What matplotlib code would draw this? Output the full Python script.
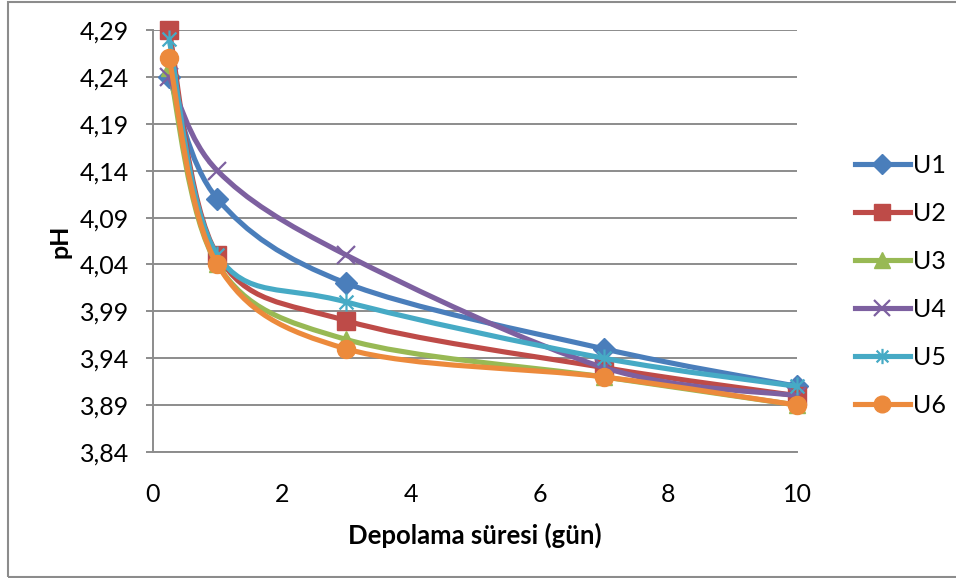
import numpy as np
import matplotlib
matplotlib.use("Agg")
import matplotlib.pyplot as plt
from matplotlib.path import Path
from matplotlib.patches import PathPatch, Rectangle
from matplotlib.lines import Line2D

plt.rcParams['font.family'] = ['Lato', 'DejaVu Sans']

# storage time (days) and pH of each sample
days = [0.25, 1, 3, 7, 10]
u1 = [4.24, 4.11, 4.02, 3.95, 3.91]
u2 = [4.29, 4.05, 3.98, 3.93, 3.90]
u3 = [4.25, 4.04, 3.96, 3.92, 3.89]
u4 = [4.24, 4.14, 4.05, 3.93, 3.90]
u5 = [4.28, 4.05, 4.00, 3.94, 3.91]
u6 = [4.26, 4.04, 3.95, 3.92, 3.89]
labels = ['U1', 'U2', 'U3', 'U4', 'U5', 'U6']

yticks = [3.84, 3.89, 3.94, 3.99, 4.04, 4.09, 4.14, 4.19, 4.24, 4.29]
ytick_labels = ['3,84', '3,89', '3,94', '3,99', '4,04', '4,09', '4,14', '4,19', '4,24', '4,29']
xticks = [0, 2, 4, 6, 8, 10]

colors = ['#4A7EBB', '#BE4B48', '#98B954', '#7D60A0', '#46AAC5', '#EC8A3C']

# asterisk marker: x plus a vertical bar
star = Path([(-1, -1), (1, 1), (-1, 1), (1, -1), (0, -1.3), (0, 1.3)],
            [Path.MOVETO, Path.LINETO, Path.MOVETO, Path.LINETO, Path.MOVETO, Path.LINETO])
markers = ['D', 's', '^', 'x', star, 'o']
msizes = [11, 13, 12, 13, 13, 13]
FS = 18
LW = 3.7


def smooth_path(x, y):
    # catmull-rom style bezier through the points, like spreadsheet smoothed lines
    pts = np.column_stack([x, y]).astype(float)
    n = len(pts)
    verts = [pts[0]]
    codes = [Path.MOVETO]
    for i in range(n - 1):
        p0 = pts[max(i - 1, 0)]
        p1 = pts[i]
        p2 = pts[i + 1]
        p3 = pts[min(i + 2, n - 1)]
        c1 = p1 + (p2 - p0) / 6.0
        c2 = p2 - (p3 - p1) / 6.0
        verts += [c1, c2, p2]
        codes += [Path.CURVE4] * 3
    return Path(verts, codes)


fig = plt.figure(figsize=(9.56, 5.78), dpi=100)
ax = fig.add_axes([0.160, 0.218, 0.674, 0.730])

# outer chart border
fig.patches.append(Rectangle((8 / 956, 1 / 578), 1.0, 575 / 578, transform=fig.transFigure,
                             fill=False, edgecolor='#8C8C8C', lw=1.5))

series = [u1, u2, u3, u4, u5, u6]
handles = []
for k, vals in enumerate(series):
    c = colors[k]
    patch = PathPatch(smooth_path(days, vals), fill=False, edgecolor=c, lw=LW,
                      capstyle='round', joinstyle='round', zorder=3 + 2 * k, clip_on=False)
    ax.add_patch(patch)
    if markers[k] in ('x',) or markers[k] is star:
        ax.plot(days, vals, ls='none', marker=markers[k], ms=msizes[k], mec=c,
                mew=1.6, zorder=4 + 2 * k, clip_on=False)
        h = Line2D([], [], color=c, lw=LW, marker=markers[k], ms=msizes[k] - 2, mec=c, mew=1.6)
    else:
        ax.plot(days, vals, ls='none', marker=markers[k], ms=msizes[k], mfc=c, mec=c,
                zorder=4 + 2 * k, clip_on=False)
        h = Line2D([], [], color=c, lw=LW, marker=markers[k], ms=msizes[k] - 1, mfc=c, mec=c)
    handles.append(h)

ax.set_xlim(0, 10)
ax.set_ylim(3.84, 4.29)
ax.set_xticks(xticks)
ax.set_xticklabels([str(v) for v in xticks])
ax.set_yticks(yticks)
ax.set_yticklabels(ytick_labels)
ax.grid(axis='y', color='#8C8C8C', lw=1.4)
ax.set_axisbelow(True)
for side in ('top', 'right'):
    ax.spines[side].set_visible(False)
for side in ('left', 'bottom'):
    ax.spines[side].set_color('#8C8C8C')
    ax.spines[side].set_linewidth(1.4)
ax.tick_params(axis='y', length=5, width=1.4, color='#8C8C8C', labelsize=FS, pad=12)
ax.tick_params(axis='x', length=0, labelsize=FS, pad=22)

ax.set_xlabel('Depolama süresi (gün)', fontsize=FS + 0.5, fontweight='bold', labelpad=12)
ax.set_ylabel('pH', fontsize=FS, fontweight='bold', labelpad=6)

fig.legend(handles, labels, loc='center left', bbox_to_anchor=(842 / 956, 0.506),
           frameon=False, fontsize=FS, handlelength=2.2, handletextpad=0.15,
           labelspacing=1.0, borderpad=0)

fig.savefig('out.png', dpi=100)
